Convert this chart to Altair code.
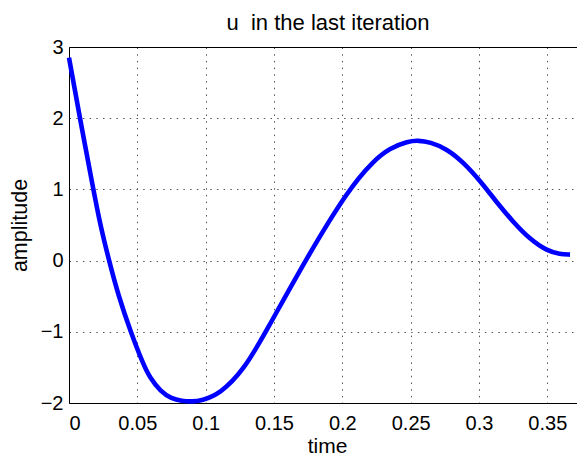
import altair as alt
import pandas as pd

# values
time = [0.0, 0.008, 0.0178, 0.0230, 0.0293, 0.0361, 0.0451, 0.0544, 0.059, 0.067, 0.075,
        0.0825, 0.0898, 0.097, 0.1105, 0.1276, 0.1441, 0.1727, 0.2044, 0.2227, 0.2349,
        0.248, 0.2556, 0.2641, 0.2764, 0.2886, 0.3008, 0.3129, 0.3251, 0.3373,
        0.3495, 0.3593, 0.3666]
u = [2.85, 2.0, 1.0, 0.49, 0.0, -0.49, -1.0, -1.46, -1.64, -1.84, -1.94,
     -1.972, -1.98, -1.968, -1.87, -1.545, -1.0, 0.0, 1.0, 1.40, 1.58,
     1.675, 1.688, 1.665, 1.57, 1.38, 1.12, 0.82, 0.54, 0.30,
     0.14, 0.09, 0.084]

x_ticks = [0, 0.05, 0.1, 0.15, 0.2, 0.25, 0.3, 0.35]
y_ticks = [-2, -1, 0, 1, 2, 3]

df = pd.DataFrame({"time": time, "u": u})

FONT = "Liberation Sans"
x_scale = alt.Scale(domain=[0, 0.3717], nice=False, zero=False)
y_scale = alt.Scale(domain=[-2, 3], nice=False, zero=False)

grid_style = dict(grid=True, gridColor="#555555", gridDash=[1.5, 5.2], gridWidth=1, gridOpacity=1)

line = alt.Chart(df).mark_line(color="#0000FF", strokeWidth=4.6, interpolate="basis").encode(
    x=alt.X("time:Q", scale=x_scale,
            axis=alt.Axis(values=x_ticks, format="~g", title="time", ticks=False, tickSize=0,
                          labelPadding=10, labelFontSize=20, labelFont=FONT, labelColor="black",
                          domainColor="black", domainWidth=1,
                          titleFont=FONT, titleFontSize=21, titleFontWeight="normal", titleColor="black",
                          titleBaseline="alphabetic", titleX=258, titleY=49,
                          **grid_style)),
    y=alt.Y("u:Q", scale=y_scale,
            axis=alt.Axis(values=y_ticks, format="~g", title="amplitude", ticks=False, tickSize=0,
                          labelPadding=6, labelFontSize=20, labelFont=FONT, labelColor="black",
                          domainColor="black", domainWidth=1,
                          titleFont=FONT, titleFontSize=21.5, titleFontWeight="normal", titleColor="black",
                          titleAngle=270, titleAlign="center", titleBaseline="alphabetic",
                          titleX=-43, titleY=178,
                          **grid_style)),
)

# invisible layer that only carries the top frame line (MATLAB box)
top = alt.Chart(df).mark_point(opacity=0).encode(
    x=alt.X("time:Q", scale=x_scale,
            axis=alt.Axis(orient="top", labels=False, ticks=False, grid=False, title=None,
                          domainColor="black", domainWidth=1)),
)

chart = alt.layer(top, line).resolve_axis(x="independent").properties(
    width=508,
    height=356,
    autosize=alt.AutoSizeParams(type="none"),
    padding={"left": 69, "top": 47, "right": 0, "bottom": 53},
    title=alt.TitleParams("u\u00a0 in the last iteration", font=FONT, fontSize=22, fontWeight="normal",
                          color="black", anchor="middle", baseline="alphabetic", offset=-15, dx=5),
).configure_view(stroke=None).configure(background="white")

chart.save("out.html", embed_options={"renderer": "svg", "actions": False})
